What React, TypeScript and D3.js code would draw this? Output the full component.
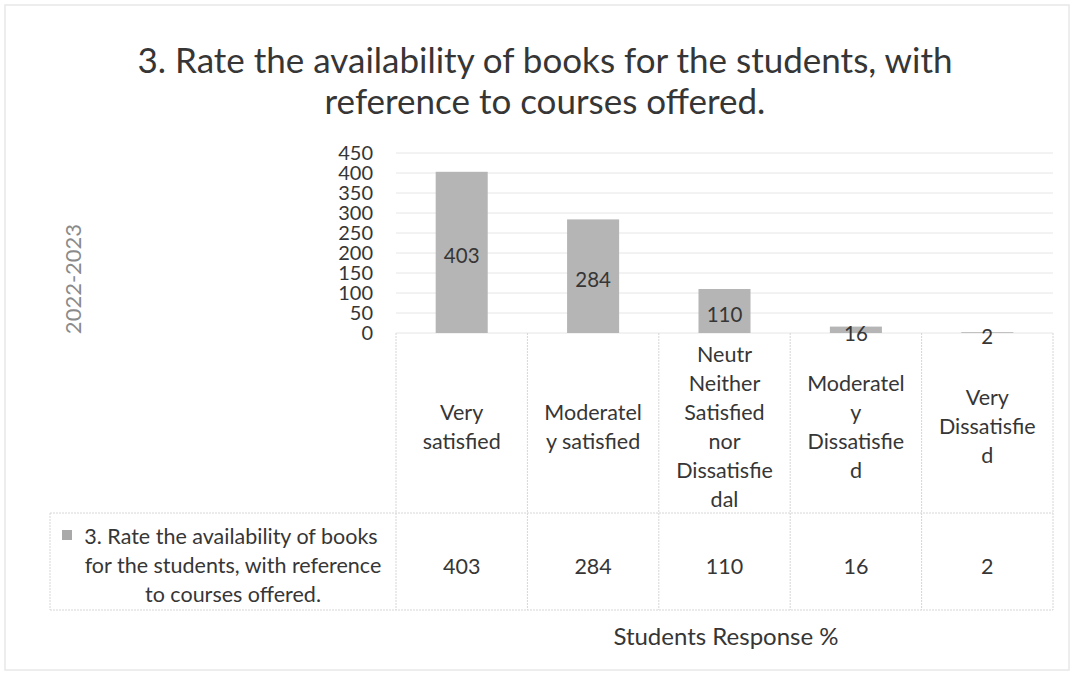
import React from "react";
import * as d3 from "d3";

const categories = ["Very satisfied", "Moderately satisfied", "Neither Satisfied nor Dissatisfied", "Moderately Dissatisfied", "Very Dissatisfied"];
const categoryLines = [
  ["Very", "satisfied"],
  ["Moderatel", "y satisfied"],
  ["Neutr", "Neither", "Satisfied", "nor", "Dissatisfie", "dal"],
  ["Moderatel", "y", "Dissatisfie", "d"],
  ["Very", "Dissatisfie", "d"],
];
const values = [403, 284, 110, 16, 2];
const yTicks = [0, 50, 100, 150, 200, 250, 300, 350, 400, 450];
const titleLines = ["3. Rate the availability of books for the students, with", "reference to courses offered."];
const legendLines = ["3. Rate the availability of books", "for the students, with reference", "to courses offered."];
const yTitle = "2022-2023";
const xTitle = "Students Response %";

const W = 1074;
const H = 677;
const FONT = "Lato, 'Open Sans', sans-serif";
const TEXT = "#363636";
const GRID = "#e6e6e6";
const TABLE = "#d6d6d6";

export default function App() {
  const left = 396, right = 1053, top = 153, base = 333;
  const tableLeft = 50, headerBottom = 513, tableBottom = 610;
  const x = d3.scaleBand<string>().domain(categories).range([left, right]).paddingInner(0.604).paddingOuter(0.302);
  const col = d3.scaleBand<string>().domain(categories).range([left, right]).padding(0);
  const y = d3.scaleLinear().domain([0, 450]).range([base, top]);
  const lh = 29;
  const headerMid = 427;
  const fs = 21.5;

  return (
    <svg width={W} height={H} style={{ position: "absolute", left: 0, top: 0, background: "#fff" }}>
      <rect x={5} y={5} width={W - 10} height={H - 12} fill="#fff" stroke="#e8e8e8" strokeWidth={1.5} />
      {/* title */}
      {titleLines.map((t, i) => (
        <text key={i} x={545} y={73 + i * 41} textAnchor="middle" fontFamily={FONT} fontSize={35} fill={TEXT}>{t}</text>
      ))}
      {/* gridlines */}
      {yTicks.map((t) => (
        <line key={t} x1={left} x2={right} y1={y(t)} y2={y(t)} stroke={GRID} strokeWidth={1} />
      ))}
      {/* y tick labels */}
      {yTicks.map((t) => (
        <text key={t} x={373} y={y(t) + 7} textAnchor="end" fontFamily={FONT} fontSize={20} fill={TEXT}>{t}</text>
      ))}
      {/* y title */}
      <text transform={`translate(81,279) rotate(-90)`} textAnchor="middle" fontFamily={FONT} fontSize={22} fill="#8a8a8a">{yTitle}</text>
      {/* bars */}
      {categories.map((c, i) => (
        <rect key={c} x={x(c)} y={y(values[i])} width={x.bandwidth()} height={base - y(values[i])} fill="#b5b5b5" />
      ))}
      {/* bar labels */}
      {categories.map((c, i) => (
        <text key={c} x={(x(c) ?? 0) + x.bandwidth() / 2} y={(y(values[i]) + base) / 2 + 11} textAnchor="middle" fontFamily={FONT} fontSize={20.5} fill={TEXT}>{values[i]}</text>
      ))}
      {/* data table */}
      <g stroke={TABLE} strokeWidth={1} strokeDasharray="2,1" fill="none">
        {categories.map((c) => (
          <line key={c} x1={col(c)} x2={col(c)} y1={base} y2={tableBottom} />
        ))}
        <line x1={right} x2={right} y1={base} y2={tableBottom} />
        <line x1={tableLeft} x2={tableLeft} y1={headerBottom} y2={tableBottom} />
        <line x1={tableLeft} x2={right} y1={headerBottom} y2={headerBottom} />
        <line x1={tableLeft} x2={right} y1={tableBottom} y2={tableBottom} />
      </g>
      {categories.map((c, i) => {
        const lines = categoryLines[i];
        const cx = (col(c) ?? 0) + col.bandwidth() / 2;
        const y0 = headerMid - ((lines.length - 1) * lh) / 2;
        return lines.map((l, j) => (
          <text key={c + j} x={cx} y={y0 + j * lh + 7} textAnchor="middle" fontFamily={FONT} fontSize={fs} fill={TEXT}>{l}</text>
        ));
      })}
      {categories.map((c, i) => (
        <text key={c} x={(col(c) ?? 0) + col.bandwidth() / 2} y={574} textAnchor="middle" fontFamily={FONT} fontSize={fs} fill={TEXT}>{values[i]}</text>
      ))}
      {/* legend cell */}
      <rect x={62} y={530} width={10} height={10} fill="#a9a9a9" />
      {legendLines.map((l, i) => (
        <text key={i} x={i === 0 ? 231 : 233} y={544 + i * 29} textAnchor="middle" fontFamily={FONT} fontSize={fs} fill={TEXT}>{l}</text>
      ))}
      {/* x title */}
      <text x={726} y={645} textAnchor="middle" fontFamily={FONT} fontSize={24} fill={TEXT}>{xTitle}</text>
    </svg>
  );
}
